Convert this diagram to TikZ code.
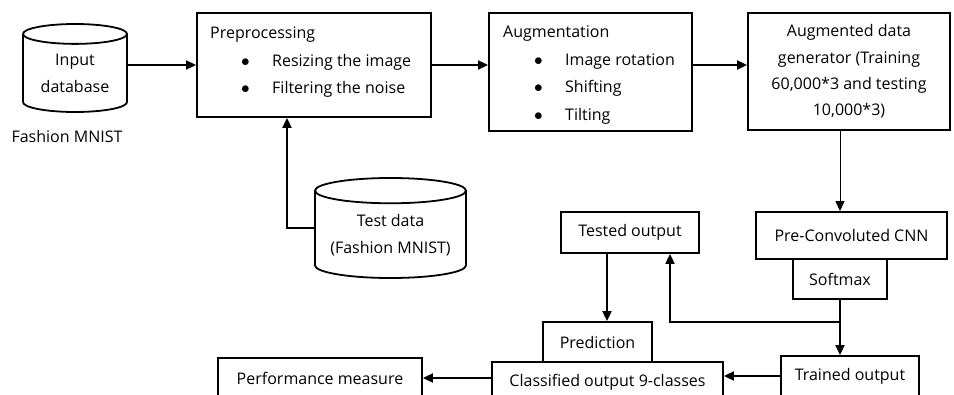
\documentclass[tikz,border=0pt]{standalone}
\usepackage{fontspec}
\setmainfont{Open Sans}
\usetikzlibrary{positioning,shapes.geometric,arrows.meta}

\newcommand{\bulletitem}[1]{\makebox[62pt][l]{\hspace{31pt}$\bullet$}#1}

\begin{document}
\begin{tikzpicture}[
	x=1pt, y=-1pt,
	boxnode/.style={rectangle, draw=black, line width=1.8pt, inner sep=0pt, font=\fontsize{16}{27}\selectfont},
	dbnode/.style={cylinder, shape border rotate=90, draw=black, line width=1.8pt, inner sep=0pt, align=center, anchor=shape center, font=\fontsize{16}{27}\selectfont},
	listtext/.style={anchor=north west, align=left, inner sep=0pt, font=\fontsize{16}{27.5}\selectfont},
	textnode/.style={inner sep=0pt, align=center, font=\fontsize{16}{27}\selectfont},
	flow/.style={line width=1.8pt, -{Triangle[length=10pt,width=9pt]}},
	]
	\useasboundingbox (0,0) rectangle (954,394);
	\clip (0,0) rectangle (954,394);
	
	%Nodes
	\node[dbnode, minimum width=104, minimum height=88, aspect=0.29] (inp) at (75,68) {Input\\database};
	\node[textnode] (inplabel) at (67,136) {Fashion MNIST};
	\node[boxnode, minimum width=234, minimum height=104] (prep) at (314,65) {};
	\node[listtext] (preptext) at (210,27) {Preprocessing\\\bulletitem{Resizing the image}\\\bulletitem{Filtering the noise}};
	\node[boxnode, minimum width=203, minimum height=118] (aug) at (590.5,72) {};
	\node[listtext] (augtext) at (503,26) {Augmentation\\\bulletitem{Image rotation}\\\bulletitem{Shifting}\\\bulletitem{Tilting}};
	\node[boxnode, minimum width=202, minimum height=117, align=center, font=\fontsize{16}{26.3}\selectfont] (gen) at (849,71.5) {Augmented data\\generator (Training\\60,000*3 and testing\\10,000*3)};
	\node[dbnode, minimum width=151, minimum height=100, aspect=0.21] (test) at (390.5,228) {Test data\\(Fashion MNIST)};
	\node[boxnode, minimum width=191, minimum height=47] (cnn) at (851.5,235.5) {Pre-Convoluted CNN};
	\node[boxnode, minimum width=94, minimum height=40] (soft) at (840,279) {Softmax};
	\node[boxnode, minimum width=138, minimum height=41] (tested) at (630,232.5) {Tested output};
	\node[boxnode, minimum width=109, minimum height=40] (pred) at (597.5,342) {Prediction};
	\node[boxnode, minimum width=231, minimum height=40] (class) at (607.5,382) {Classified output 9-classes};
	\node[boxnode, minimum width=138, minimum height=40] (train) at (850,376) {Trained output};
	\node[boxnode, minimum width=204, minimum height=40] (perf) at (320,378) {Performance measure};
	\coordinate (split) at (840,322);
	
	%Lines
	\draw[flow] (inp.east |- prep.west) -- (prep.west);
	\draw[flow] (prep.east) -- (prep.east -| aug.west);
	\draw[flow] (prep.east -| aug.east) -- (prep.east -| gen.west);
	\draw[flow, line width=1pt] (gen.south -| soft.south) -- (cnn.north -| soft.south);
	\draw[flow] (soft.south) -- (soft.south |- train.north);
	\draw[flow] (split) -| (tested.south -| 670,0);
	\draw[flow] (607,0 |- tested.south) -- (607,0 |- pred.north);
	\draw[flow] (train.west) -- (train.west -| class.east);
	\draw[flow] (perf.east -| class.west) -- (perf.east);
	\draw[flow] (test.west |- test.shape center) -| (prep.south -| 287,0);
	
\end{tikzpicture}
\end{document}
